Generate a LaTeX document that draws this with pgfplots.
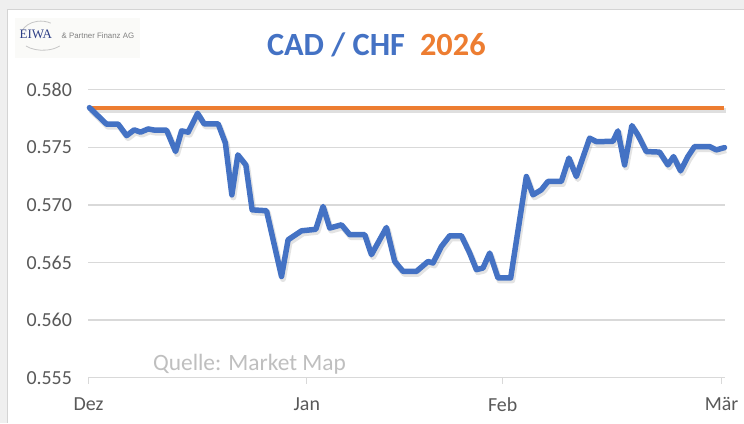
\documentclass[border=0pt]{standalone}
\usepackage{fontspec}
\setmainfont{Carlito}
\newfontfamily\logoserif{Liberation Serif}
\newfontfamily\logosans{Liberation Sans}
\usepackage{pgfplots}
\pgfplotsset{compat=1.18}
\definecolor{cblue}{HTML}{4472C4}
\definecolor{corange}{HTML}{ED7D31}
\definecolor{cgrid}{HTML}{D9D9D9}
\definecolor{ctick}{HTML}{595959}
\definecolor{cquelle}{HTML}{BFBFBF}
\definecolor{cbg}{HTML}{EFEFEF}
\definecolor{cborder}{HTML}{D4D4D4}
\definecolor{clogo}{HTML}{2E3F86}
\definecolor{clogobg}{HTML}{FAFAF8}
\begin{document}
\begin{tikzpicture}[x=1bp,y=1bp]
\fill[cbg] (0,0) rectangle (744,423);
\fill[white] (8,0) rectangle (744,413);
\draw[cborder, line width=1bp] (8,0) -- (8,413) -- (744,413);
% logo
\fill[clogobg] (15,365) rectangle (140,405);
\draw[gray!45, line width=0.8bp] (22,392) arc[start angle=160, end angle=60, x radius=20, y radius=15];
\draw[gray!45, line width=0.8bp] (26,377) arc[start angle=220, end angle=320, x radius=22, y radius=12];
\node[anchor=base west, inner sep=0, text=clogo, font=\logoserif\fontsize{13}{13}\selectfont] at (19.5,384) {EIWA};
\node[anchor=base west, inner sep=0, text=gray, font=\logosans\fontsize{7.9}{7.9}\selectfont] at (61.5,384.5) {\& Partner Finanz AG};
% title
\node[anchor=base west, inner sep=0, font=\bfseries\fontsize{32.5}{32.5}\selectfont] at (267,367) {\textcolor{cblue}{CAD / CHF}\hspace{15bp}\textcolor{corange}{2026}};
\begin{axis}[
  at={(88.5bp,45bp)}, anchor=south west,
  scale only axis, width=637bp, height=288.3bp,
  xmin=0, xmax=637, ymin=0.555, ymax=0.580,
  axis x line*=bottom, axis y line*=left,
  y axis line style={draw=none},
  x axis line style={draw=cgrid, line width=1.3bp},
  ytick={0.555,0.560,0.565,0.570,0.575,0.580},
  ymajorgrids, grid style={draw=cgrid, line width=1.3bp},
  ytick style={draw=none},
  xtick={0,218.5,414.5,633.5},
  xticklabels={Dez,Jan,Feb,Mär},
  xtick align=outside, major tick length=6bp,
  xtick style={draw=cgrid, line width=1.3bp},
  yticklabel style={/pgf/number format/fixed, /pgf/number format/precision=3, /pgf/number format/fixed zerofill, xshift=-13bp},
  /pgf/number format/assume math mode=true,
  ticklabel style={font=\fontsize{20}{20}\selectfont, text=ctick},
  xticklabel style={yshift=-10bp},
  clip=false,
]
\addplot[gray, opacity=0.25, line width=5bp, line join=round, xshift=1.5bp, yshift=-2.5bp] coordinates {(0,0.57844) (636,0.57844)};
\addplot[corange, line width=4bp] coordinates {(0,0.57844) (636,0.57844)};
\addplot[gray, opacity=0.22, line width=6bp, line join=round, xshift=1.5bp, yshift=-2.5bp] table {
x y
1 0.57844
18.2 0.57700
29.8 0.57700
38.2 0.57601
45.8 0.57651
52.2 0.57631
59.8 0.57659
66.5 0.57648
78.2 0.57648
87.2 0.57463
93.2 0.57642
99.8 0.57631
109.2 0.57795
115.8 0.57703
129.8 0.57703
137 0.57538
143.5 0.57087
149.5 0.57434
157.5 0.57347
163.8 0.56957
178.2 0.56949
193.2 0.56379
199.8 0.56697
213.2 0.56775
227.5 0.56788
234.8 0.56986
241.5 0.56799
253.2 0.56827
261.5 0.56741
276.5 0.56741
283.2 0.56568
298.2 0.56804
306.5 0.56509
314.8 0.56423
328.2 0.56423
339.8 0.56509
344.8 0.56496
353.2 0.56639
361.5 0.56732
373.2 0.56732
381.5 0.56582
388.2 0.56438
394.8 0.56452
401.5 0.56582
409.8 0.56366
422.5 0.56366
438.2 0.57246
444.8 0.57087
453.2 0.57131
459.8 0.57203
473.2 0.57203
480.8 0.57406
488.2 0.57246
501.5 0.57579
508.2 0.57549
524.8 0.57551
529.8 0.57642
536.5 0.57347
543.8 0.57688
549.8 0.57607
558.2 0.57463
571.5 0.57458
579.8 0.57347
585.5 0.57419
592.5 0.57295
599.8 0.57419
606.5 0.57506
621.5 0.57506
628.2 0.57477
636.5 0.57497
};
\addplot[cblue, line width=5.5bp, line join=round, line cap=round] table {
x y
1 0.57844
18.2 0.57700
29.8 0.57700
38.2 0.57601
45.8 0.57651
52.2 0.57631
59.8 0.57659
66.5 0.57648
78.2 0.57648
87.2 0.57463
93.2 0.57642
99.8 0.57631
109.2 0.57795
115.8 0.57703
129.8 0.57703
137 0.57538
143.5 0.57087
149.5 0.57434
157.5 0.57347
163.8 0.56957
178.2 0.56949
193.2 0.56379
199.8 0.56697
213.2 0.56775
227.5 0.56788
234.8 0.56986
241.5 0.56799
253.2 0.56827
261.5 0.56741
276.5 0.56741
283.2 0.56568
298.2 0.56804
306.5 0.56509
314.8 0.56423
328.2 0.56423
339.8 0.56509
344.8 0.56496
353.2 0.56639
361.5 0.56732
373.2 0.56732
381.5 0.56582
388.2 0.56438
394.8 0.56452
401.5 0.56582
409.8 0.56366
422.5 0.56366
438.2 0.57246
444.8 0.57087
453.2 0.57131
459.8 0.57203
473.2 0.57203
480.8 0.57406
488.2 0.57246
501.5 0.57579
508.2 0.57549
524.8 0.57551
529.8 0.57642
536.5 0.57347
543.8 0.57688
549.8 0.57607
558.2 0.57463
571.5 0.57458
579.8 0.57347
585.5 0.57419
592.5 0.57295
599.8 0.57419
606.5 0.57506
621.5 0.57506
628.2 0.57477
636.5 0.57497
};
\end{axis}
\node[anchor=base west, inner sep=0, text=cquelle, font=\fontsize{23.5}{23.5}\selectfont] at (153,52) {Quelle: Market Map};
\useasboundingbox (0,0) rectangle (744,423);
\end{tikzpicture}
\end{document}
